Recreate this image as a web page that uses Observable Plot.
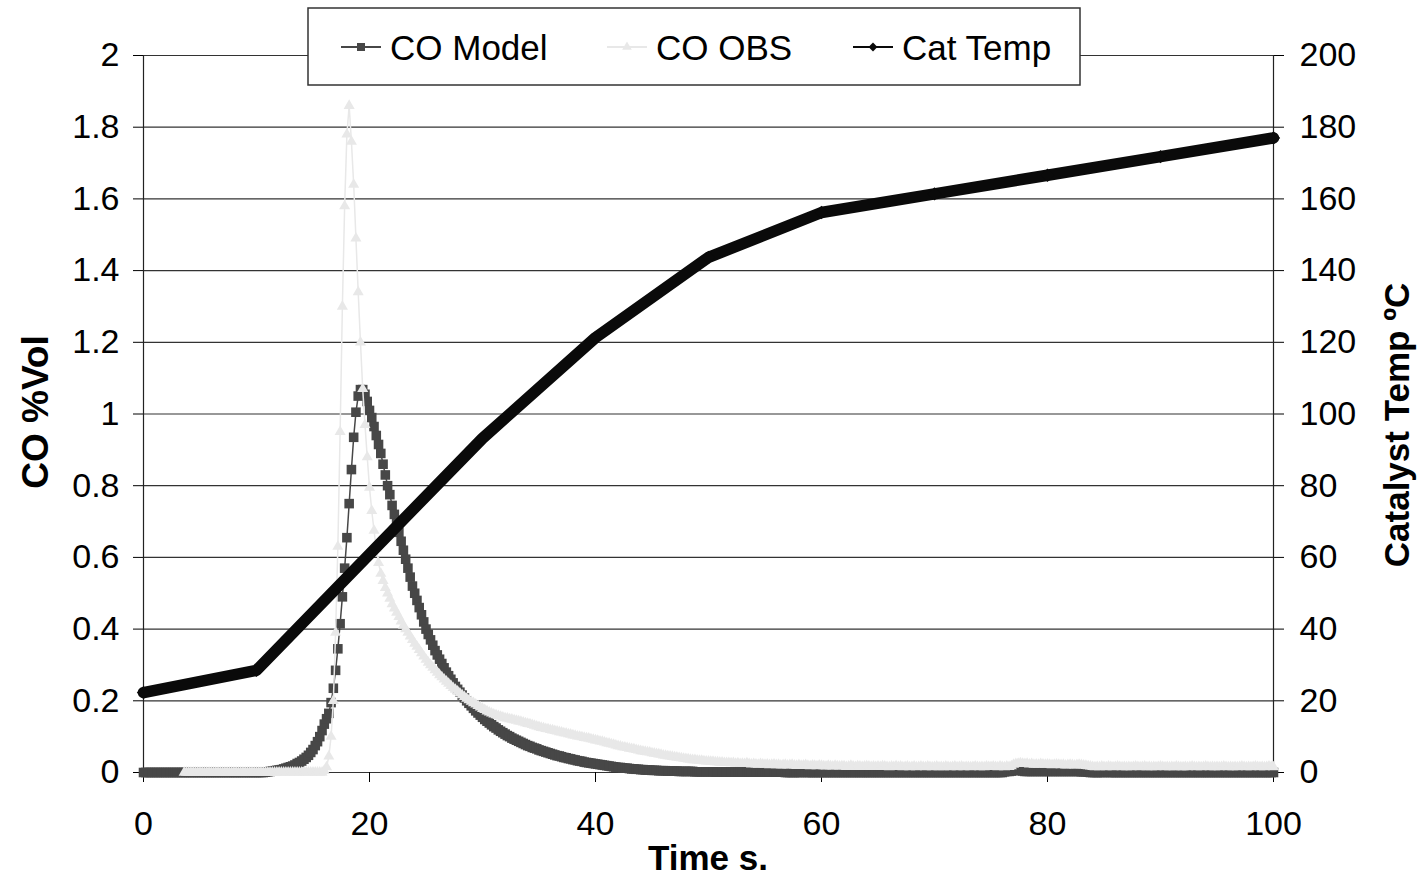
<!DOCTYPE html>
<html>
<head>
<meta charset="utf-8">
<script src="https://cdn.jsdelivr.net/npm/d3@7"></script>
<script src="https://cdn.jsdelivr.net/npm/@observablehq/plot@0.6"></script>
<style>
  body { margin: 0; background: #fff; }
  #chart { position: relative; width: 1420px; height: 875px; }
</style>
</head>
<body>
<div id="chart"></div>
<script>
// Logged samples every 0.2 s
const step = 0.2;

// CO from the model, %Vol, from t = 0 s
const modelStart = 0;
const coModel = [
  0,0,0,0,0, 0,0,0,0,0, 0,0,0,0,0, 0,0,0,0,0, 0,0,0,0,0,
  0,0,0,0,0, 0,0,0,0,0, 0,0,0,0,0, 0,0,0,0,0, 0,0,0,0,0,
  0,0,0,0,0.001,
  0.002,0.003,0.004,0.005,0.006,
  0.007,0.008,0.010,0.012,0.014,
  0.016,0.018,0.021,0.025,0.028,
  0.032,0.037,0.042,0.048,0.056,
  0.064,0.075,0.086,0.100,0.117,
  0.135,0.150,0.165,0.195,0.235,
  0.285,0.345,0.415,0.490,0.570,
  0.655,0.750,0.845,0.935,1.005,
  1.050,1.068,1.068,1.055,1.035,
  1.010,0.990,0.965,0.940,0.915,
  0.890,0.860,0.830,0.800,0.775,
  0.745,0.720,0.695,0.670,0.645,
  0.620,0.595,0.570,0.545,0.520,
  0.500,0.480,0.460,0.440,0.420,
  0.400,0.385,0.370,0.355,0.340,
  0.328,0.316,0.304,0.292,0.280,
  0.270,0.260,0.250,0.240,0.232,
  0.224,0.216,0.208,0.200,0.193,
  0.186,0.179,0.172,0.166,0.160,
  0.154,0.148,0.143,0.138,0.133,
  0.128,0.124,0.119,0.115,0.111,
  0.107,0.103,0.100,0.096,0.093,
  0.090,0.087,0.084,0.081,0.078,
  0.075,0.073,0.070,0.068,0.066,
  0.063,0.061,0.059,0.057,0.055,
  0.053,0.051,0.049,0.047,0.046,
  0.044,0.042,0.041,0.039,0.038,
  0.036,0.035,0.033,0.032,0.031,
  0.029,0.028,0.027,0.026,0.025,
  0.024,0.023,0.022,0.021,0.020,
  0.019,0.018,0.017,0.016,0.015,
  0.014,0.014,0.013,0.012,0.012,
  0.011,0.010,0.010,0.009,0.009,
  0.008,0.008,0.007,0.007,0.007,
  0.006,0.006,0.006,0.005,0.005,
  0.005,0.005,0.004,0.004,0.004,
  0.004,0.004,0.003,0.003,0.003,
  0.003,0.003,0.003,0.003,0.002,
  0.002,0.002,0.002,0.002,0.002,
  0.002,0.002,0.002,0.001,0.001,
  0.001,0.001,0.001,0.001,0.001,
  0.001,0.001,0.001,0.001,0.001,
  0.001,0.001,0.001,0.001,0.001,
  0.001,0.001,0.001,0.001,0.001,
  0.001,0.001,0.001,0.001,0.001,
  0.001,0.001,0.001,0.001,0,
  0,0,0,0,0,
  0,0,0.003,0,0,
  0,0,0,0,0, 0,0,0,0,0, 0,0,0,0,0, 0,0,0,0,0,
  0,0,0,0,0, 0,0,0,0,0, 0,0,0,0,0, 0,0,0,0,0,
  0,0,0,0,0, 0,0,0,0,0, 0,0,0,0,0, 0,0,0,0,0,
  0,0,0,0,0, 0,0,0,0,0, 0,0,0,0,0, 0,0,0,0,0,
  0,0,0,0,0,
  0,0.002,0.003,0.003,0.004,
  0.005,0.007,0.008,0.006,0.004,
  0.003,0.003,0.003,0.003,0.003,
  0.003,0.003,0.003,0.003,0.003,
  0.003,0.003,0.003,0.003,0.003,
  0.003,0.003,0.003,0.003,0.003,
  0.003,0.003,0.003,0.003,0.003,
  0.002,0.002,0.002,0.001,0,
  0,0,0,0,0,
  0,0.004,0,0,0,
  0,0,0,0,0, 0,0,0,0,0, 0,0,0,0,0, 0,0,0,0,0, 0,0,0,0,0,
  0,0,0,0,0, 0,0,0,0,0, 0,0,0,0,0, 0,0,0,0,0, 0,0,0,0,0,
  0,0,0,0,0, 0,0,0,0,0, 0,0,0,0,0, 0,0,0,0,0,
  0
];

// Measured CO, %Vol, logged from t = 3.6 s
const obsStart = 3.6;
const coObs = [
  0,0,
  0,0,0,0,0, 0,0,0,0,0, 0,0,0,0,0, 0,0,0,0,0, 0,0,0,0,0, 0,0,0,0,0,
  0,0,0,0,0, 0,0,0,0,0, 0,0,0,0,0, 0,0,0,0,0, 0,0,0,0,0, 0,0,0,0,0,
  0.005,0.015,0.045,0.100,0.200,
  0.390,0.630,0.950,1.300,1.580,
  1.780,1.860,1.760,1.640,1.490,
  1.340,1.200,1.070,0.970,0.880,
  0.795,0.730,0.675,0.625,0.585,
  0.555,0.535,0.515,0.500,0.485,
  0.470,0.458,0.446,0.434,0.422,
  0.410,0.400,0.390,0.380,0.370,
  0.360,0.351,0.342,0.333,0.324,
  0.315,0.307,0.300,0.293,0.286,
  0.279,0.272,0.266,0.260,0.254,
  0.248,0.242,0.236,0.231,0.226,
  0.221,0.216,0.211,0.206,0.202,
  0.198,0.194,0.190,0.186,0.182,
  0.178,0.175,0.171,0.168,0.165,
  0.162,0.160,0.158,0.156,0.154,
  0.152,0.151,0.149,0.148,0.146,
  0.145,0.143,0.142,0.140,0.138,
  0.136,0.135,0.133,0.131,0.129,
  0.127,0.125,0.124,0.122,0.121,
  0.119,0.118,0.116,0.115,0.113,
  0.112,0.110,0.109,0.107,0.106,
  0.104,0.103,0.101,0.100,0.099,
  0.097,0.096,0.095,0.093,0.092,
  0.090,0.089,0.087,0.086,0.084,
  0.082,0.081,0.079,0.078,0.076,
  0.074,0.073,0.071,0.070,0.069,
  0.067,0.066,0.065,0.063,0.062,
  0.060,0.059,0.058,0.057,0.056,
  0.054,0.053,0.052,0.051,0.050,
  0.048,0.047,0.046,0.045,0.044,
  0.043,0.042,0.041,0.040,0.039,
  0.038,0.037,0.036,0.035,0.035,
  0.034,0.033,0.033,0.032,0.031,
  0.031,0.030,0.030,0.029,0.029,
  0.028,0.028,0.027,0.027,0.027,
  0.026,0.027,0.025,0.026,0.024,
  0.025,0.024,0.026,0.024,0.023,
  0.024,0.023,0.022,0.024,0.023,
  0.022,0.023,0.021,0.022,0.023,
  0.021,0.022,0.020,0.021,0.022,
  0.020,0.021,0.022,0.020,0.019,
  0.021,0.019,0.020,0.021,0.019,
  0.018,0.020,0.019,0.018,0.020,
  0.019,0.018,0.017,0.019,0.018,
  0.017,0.019,0.018,0.017,0.018,
  0.018,0.016,0.017,0.019,0.017,
  0.016,0.018,0.017,0.016,0.017,
  0.018,0.017,0.016,0.017,0.016,
  0.017,0.016,0.018,0.017,0.016,
  0.015,0.017,0.016,0.018,0.016,
  0.017,0.015,0.016,0.017,0.015,
  0.016,0.017,0.015,0.016,0.017,
  0.016,0.015,0.017,0.016,0.015,
  0.016,0.017,0.015,0.016,0.015,
  0.017,0.016,0.015,0.016,0.017,
  0.015,0.016,0.017,0.015,0.016,
  0.016,0.015,0.016,0.017,0.016,
  0.015,0.016,0.015,0.017,0.016,
  0.016,0.017,0.016,0.015,0.017,
  0.016,0.015,0.017,0.016,0.018,
  0.022,0.024,0.025,0.026,0.025,
  0.024,0.025,0.023,0.024,0.022,
  0.023,0.022,0.024,0.023,0.022,
  0.023,0.022,0.021,0.022,0.023,
  0.022,0.021,0.022,0.020,0.021,
  0.022,0.021,0.020,0.021,0.022,
  0.021,0.020,0.019,0.018,0.017,
  0.016,0.015,0.016,0.015,0.017,
  0.016,0.015,0.017,0.016,0.015,
  0.016,0.017,0.016,0.015,0.016,
  0.015,0.016,0.015,0.016,0.017,
  0.016,0.015,0.016,0.017,0.015,
  0.016,0.015,0.016,0.015,0.016,
  0.017,0.016,0.015,0.016,0.015,
  0.016,0.015,0.017,0.016,0.015,
  0.015,0.016,0.015,0.016,0.017,
  0.016,0.015,0.016,0.015,0.016,
  0.017,0.016,0.015,0.016,0.015,
  0.016,0.015,0.016,0.017,0.016,
  0.015,0.016,0.015,0.016,0.015,
  0.016,0.017,0.016,0.015,0.016,
  0.015,0.016,0.017,0.016,0.015,
  0.016,0.015,0.016,0.017,0.016,
  0.015
];

// Catalyst temperature, °C
const tempTime = [0, 10, 20, 30, 40, 50, 60, 70, 80, 90, 100];
const catTemp  = [22.3, 28.5, 60.9, 93.2, 121.3, 143.7, 156.2, 161.4, 166.6, 171.8, 177.0];

// Axis ticks
const xTicks = [0, 20, 40, 60, 80, 100];
const coTicks = [0, 0.2, 0.4, 0.6, 0.8, 1, 1.2, 1.4, 1.6, 1.8, 2];
const tempTicks = [0, 20, 40, 60, 80, 100, 120, 140, 160, 180, 200];

const seriesNames = ["CO Model", "CO OBS", "Cat Temp"];
const xTitle = "Time s.";
const yTitle = "CO %Vol";
const y2Title = "Catalyst Temp ºC";

// 200 °C on the right axis sits level with 2 %Vol on the left
const tempPerCO = 100;

const modelData = coModel.map((v, i) => ({t: +(modelStart + i * step).toFixed(1), v}));
const obsData = coObs.map((v, i) => ({t: +(obsStart + i * step).toFixed(1), v}));
const tempData = catTemp.map((v, i) => ({t: tempTime[i], v: v / tempPerCO}));

const modelColor = "#474747";
const obsColor = "#e8e8e8";
const tempColor = "#0a0a0a";
const font = "'Liberation Sans', Arial, sans-serif";

// marker radii (Plot symbol area = π r²)
const rModel = 5.4;
const rObs = 4.1;
const rTemp = 6;

const plot = Plot.plot({
  width: 1420,
  height: 875,
  marginLeft: 143,
  marginRight: 147,
  marginTop: 55,
  marginBottom: 103,
  style: {fontFamily: font, fontSize: "34px", color: "#000", background: "#fff", overflow: "visible"},
  x: {domain: [0, 100]},
  y: {domain: [0, 2]},
  marks: [
    Plot.gridY(coTicks, {stroke: "#333", strokeOpacity: 1, strokeWidth: 1.2}),
    Plot.ruleX([0, 100], {y1: 0, y2: 2, stroke: "#222", strokeWidth: 1.2}),
    Plot.axisX(xTicks, {tickSize: 10, tickPadding: 28, label: null, tickFormat: d => String(d)}),
    Plot.axisY(coTicks, {anchor: "left", tickSize: 10, tickPadding: 14, label: null,
      tickFormat: d => String(+d.toFixed(1))}),
    Plot.axisY(tempTicks.map(d => d / tempPerCO), {anchor: "right", tickSize: 10, tickPadding: 16, label: null,
      tickFormat: d => String(Math.round(d * tempPerCO))}),
    // CO Model
    Plot.line(modelData, {x: "t", y: "v", stroke: modelColor, strokeWidth: 1.5}),
    Plot.dot(modelData, {x: "t", y: "v", symbol: "square", r: rModel, fill: modelColor, stroke: "none"}),
    // CO OBS
    Plot.line(obsData, {x: "t", y: "v", stroke: obsColor, strokeWidth: 1.5}),
    Plot.dot(obsData, {x: "t", y: "v", symbol: "triangle", r: rObs, fill: obsColor, stroke: "none"}),
    // Cat Temp
    Plot.line(tempData, {x: "t", y: "v", stroke: tempColor, strokeWidth: 11.5, strokeLinejoin: "round"}),
    Plot.dot(tempData, {x: "t", y: "v", symbol: "diamond2", r: rTemp, fill: tempColor, stroke: "none"})
  ]
});

document.getElementById("chart").appendChild(plot);

const svg = d3.select(plot);

// Axis titles
svg.append("text")
  .attr("transform", "translate(35,412) rotate(-90)")
  .attr("text-anchor", "middle").attr("dominant-baseline", "central")
  .attr("font-family", font).attr("font-size", 37).attr("font-weight", "bold")
  .text(yTitle);
svg.append("text")
  .attr("transform", "translate(1396,425) rotate(-90)")
  .attr("text-anchor", "middle").attr("dominant-baseline", "central")
  .attr("font-family", font).attr("font-size", 35).attr("font-weight", "bold")
  .text(y2Title);
svg.append("text")
  .attr("x", 708).attr("y", 870)
  .attr("text-anchor", "middle")
  .attr("font-family", font).attr("font-size", 35).attr("font-weight", "bold")
  .text(xTitle);

// Legend box across the top of the plot
const legend = svg.append("g");
legend.append("rect")
  .attr("x", 308).attr("y", 8).attr("width", 772).attr("height", 77)
  .attr("fill", "#fff").attr("stroke", "#333").attr("stroke-width", 1.5);

const legendItems = [
  {name: seriesNames[0], x: 341, color: modelColor, type: d3.symbolSquare, r: 4.5},
  {name: seriesNames[1], x: 607, color: obsColor, type: d3.symbolTriangle, r: 3.6},
  {name: seriesNames[2], x: 853, color: tempColor, type: d3.symbolDiamond2, r: 4}
];
const ly = 47;
for (const item of legendItems) {
  legend.append("line")
    .attr("x1", item.x).attr("x2", item.x + 40).attr("y1", ly).attr("y2", ly)
    .attr("stroke", item.color).attr("stroke-width", 2);
  legend.append("path")
    .attr("transform", `translate(${item.x + 20},${ly})`)
    .attr("d", d3.symbol().type(item.type).size(Math.PI * item.r * item.r)())
    .attr("fill", item.color);
  legend.append("text")
    .attr("x", item.x + 49).attr("y", ly)
    .attr("text-anchor", "start")
    .attr("dominant-baseline", "central")
    .attr("font-family", font).attr("font-size", 35)
    .text(item.name);
}
</script>
</body>
</html>
